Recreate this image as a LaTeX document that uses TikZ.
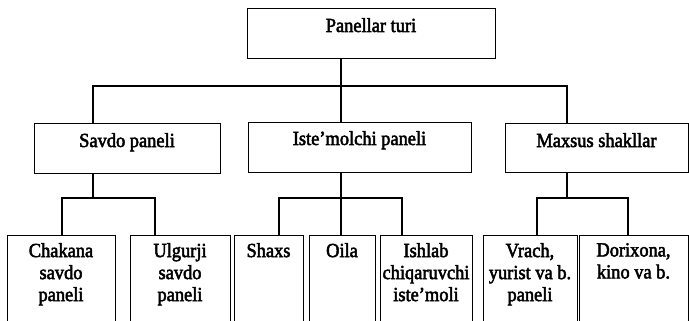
\documentclass[tikz,border=0pt]{standalone}
\usepackage{fontspec}
\setmainfont{Liberation Serif}[BoldFont={Liberation Serif},BoldFeatures={FakeBold=2.5},FakeStretch=0.92]
\begin{document}
\begin{tikzpicture}[x=1pt,y=1pt,
  box/.style={draw=black,line width=1.3pt,inner sep=0pt,anchor=north west},
  txt/.style={font=\fontsize{20}{22}\selectfont\bfseries,align=center,inner sep=0pt,anchor=base},
  link/.style={draw=black,line width=1.3pt}]
\useasboundingbox (0,0) rectangle (689,-321);
\clip (0,0) rectangle (689,-321);

% top level
\node[box,minimum width=248pt,minimum height=50pt] (top) at (247,-8) {};
\node[txt] (ttop) at (371,-32) {Panellar turi};

% second level
\node[box,minimum width=186pt,minimum height=50pt] (sav) at (34,-123) {};
\node[txt] (tsav) at (127,-147) {Savdo paneli};
\node[box,minimum width=223pt,minimum height=50pt] (ist) at (248,-122) {};
\node[txt] (tist) at (359.5,-145) {Iste'molchi paneli};
\node[box,minimum width=183pt,minimum height=49pt] (max) at (505,-123) {};
\node[txt] (tmax) at (596.5,-147) {Maxsus shakllar};

% third level
\node[box,minimum width=108pt,minimum height=100pt] (cha) at (7,-235) {};
\node[txt,anchor=north] (tcha) at (61,-243) {Chakana\\savdo\\paneli};
\node[box,minimum width=100pt,minimum height=100pt] (ulg) at (130,-235) {};
\node[txt,anchor=north] (tulg) at (180,-243) {Ulgurji\\savdo\\paneli};
\node[box,minimum width=69pt,minimum height=100pt] (sha) at (234,-235) {};
\node[txt,anchor=north] (tsha) at (268.5,-243) {Shaxs};
\node[box,minimum width=66pt,minimum height=100pt] (oil) at (309,-235) {};
\node[txt,anchor=north] (toil) at (342,-243) {Oila};
\node[box,minimum width=92pt,minimum height=100pt] (ish) at (380,-235) {};
\node[txt,anchor=north] (tish) at (426,-243) {Ishlab\\chiqaruvchi\\iste'moli};
\node[box,minimum width=94pt,minimum height=100pt] (vra) at (483,-235) {};
\node[txt,anchor=north] (tvra) at (530,-243) {Vrach,\\yurist va b.\\paneli};
\node[box,minimum width=109pt,minimum height=100pt] (dor) at (579,-235) {};
\node[txt,anchor=north] (tdor) at (633.5,-243) {Dorixona,\\kino va b.};

% attachment points
\coordinate (b0) at (341,-86);
\coordinate (b1) at (93,-198);
\coordinate (b2) at (341,-198);
\coordinate (b3) at (567,-198);

% connectors: top level to second level
\draw[link] (top.south -| b0) -- (b0);
\draw[link] (sav.north -| b1) |- (b0) -| (max.north -| b3);
\draw[link] (b0) -- (ist.north -| b0);

% Savdo paneli branch
\draw[link] (sav.south -| b1) -- (b1);
\draw[link] (cha.north -| 62,0) |- (b1) -| (ulg.north -| 155,0);

% Iste'molchi paneli branch
\draw[link] (ist.south -| b2) -- (oil.north -| b2);
\draw[link] (sha.north -| 279,0) |- (b2) -| (ish.north -| 402,0);

% Maxsus shakllar branch
\draw[link] (max.south -| b3) -- (b3);
\draw[link] (vra.north -| 537,0) |- (b3) -| (dor.north -| 628,0);
\end{tikzpicture}
\end{document}
